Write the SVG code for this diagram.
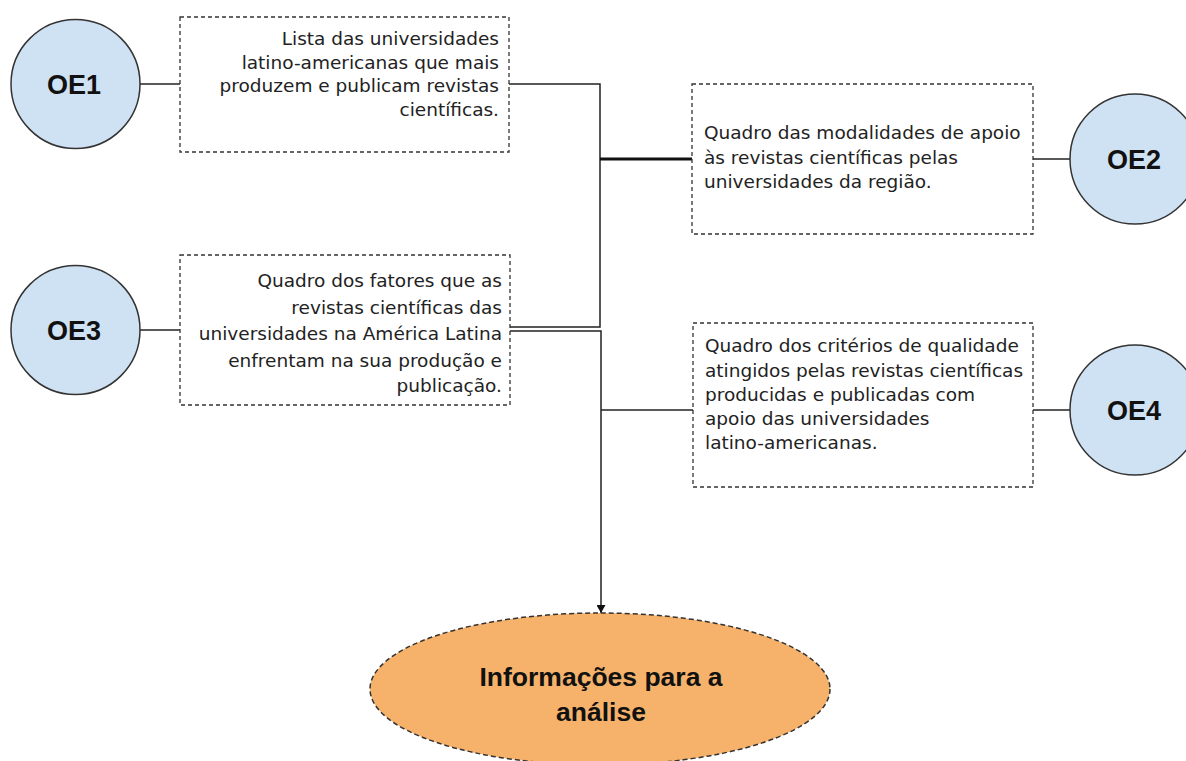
<svg xmlns="http://www.w3.org/2000/svg" width="1186" height="761" viewBox="0 0 1186 761">
<style>
.oe{fill:#cfe2f3;stroke:#333;stroke-width:1.5}
.oet{font-family:"Liberation Sans",Arial,sans-serif;font-weight:bold;font-size:27px;fill:#111;text-anchor:middle}
.box{fill:#fff;stroke:#333;stroke-width:1.3;stroke-dasharray:4 3}
.bt{font-family:"DejaVu Sans",Verdana,sans-serif;font-size:18.5px;fill:#222}
.r{text-anchor:end}
.ln{fill:none;stroke:#222;stroke-width:1.5}
.tk{fill:none;stroke:#111;stroke-width:3}
.fin{fill:#f6b26b;stroke:#333;stroke-width:1.5;stroke-dasharray:5 3}
.ft{font-family:"Liberation Sans",Arial,sans-serif;font-weight:bold;font-size:26.5px;fill:#111;text-anchor:middle}
</style>
<defs>
<marker id="arr" markerWidth="8" markerHeight="9" refX="8" refY="4.5" orient="auto" markerUnits="userSpaceOnUse">
<path d="M0,0 L8,4.5 L0,9 Z" fill="#111"/>
</marker>
</defs>
<g id="connectors">
<line class="ln" x1="140" y1="84" x2="180" y2="84"/>
<line class="ln" x1="140" y1="330" x2="180" y2="330"/>
<line class="ln" x1="1033" y1="159" x2="1070" y2="159"/>
<line class="ln" x1="1033" y1="410" x2="1070" y2="410"/>
<path class="ln" d="M509,84 H600 V327 H510"/>
<line class="tk" x1="600" y1="159" x2="692" y2="159"/>
<path class="ln" d="M510,331 H601 V613" marker-end="url(#arr)"/>
<line class="ln" x1="601" y1="410" x2="693" y2="410"/>
</g>
<g id="oe1"><circle class="oe" cx="75.5" cy="84" r="64.5"/><text class="oet" x="74" y="94">OE1</text></g>
<g id="oe2"><circle class="oe" cx="1135" cy="159" r="65"/><text class="oet" x="1134" y="169">OE2</text></g>
<g id="oe3"><circle class="oe" cx="75.5" cy="330" r="64.5"/><text class="oet" x="74" y="340">OE3</text></g>
<g id="oe4"><circle class="oe" cx="1135" cy="410" r="65"/><text class="oet" x="1134" y="420">OE4</text></g>
<g id="box1"><rect class="box" x="180" y="17" width="329" height="135"/>
<text class="bt r"><tspan x="499" y="45">Lista das universidades</tspan><tspan x="499" y="68.5">latino-americanas que mais</tspan><tspan x="499" y="92">produzem e publicam revistas</tspan><tspan x="499" y="115.5">científicas.</tspan></text></g>
<g id="box2"><rect class="box" x="692" y="84" width="341" height="150"/>
<text class="bt"><tspan x="704" y="139">Quadro das modalidades de apoio</tspan><tspan x="704" y="163.5">às revistas científicas pelas</tspan><tspan x="704" y="188">universidades da região.</tspan></text></g>
<g id="box3"><rect class="box" x="180" y="255" width="330" height="150"/>
<text class="bt r"><tspan x="502" y="287">Quadro dos fatores que as</tspan><tspan x="502" y="313.5">revistas científicas das</tspan><tspan x="502" y="340">universidades na América Latina</tspan><tspan x="502" y="366.5">enfrentam na sua produção e</tspan><tspan x="502" y="392">publicação.</tspan></text></g>
<g id="box4"><rect class="box" x="693" y="323" width="340" height="164"/>
<text class="bt"><tspan x="705" y="352">Quadro dos critérios de qualidade</tspan><tspan x="705" y="376.5">atingidos pelas revistas científicas</tspan><tspan x="705" y="401">producidas e publicadas com</tspan><tspan x="705" y="425">apoio das universidades</tspan><tspan x="705" y="449">latino-americanas.</tspan></text></g>
<g id="final"><ellipse class="fin" cx="600" cy="689" rx="230" ry="76"/>
<text class="ft"><tspan x="601" y="686">Informações para a</tspan><tspan x="601" y="721">análise</tspan></text></g>
</svg>
